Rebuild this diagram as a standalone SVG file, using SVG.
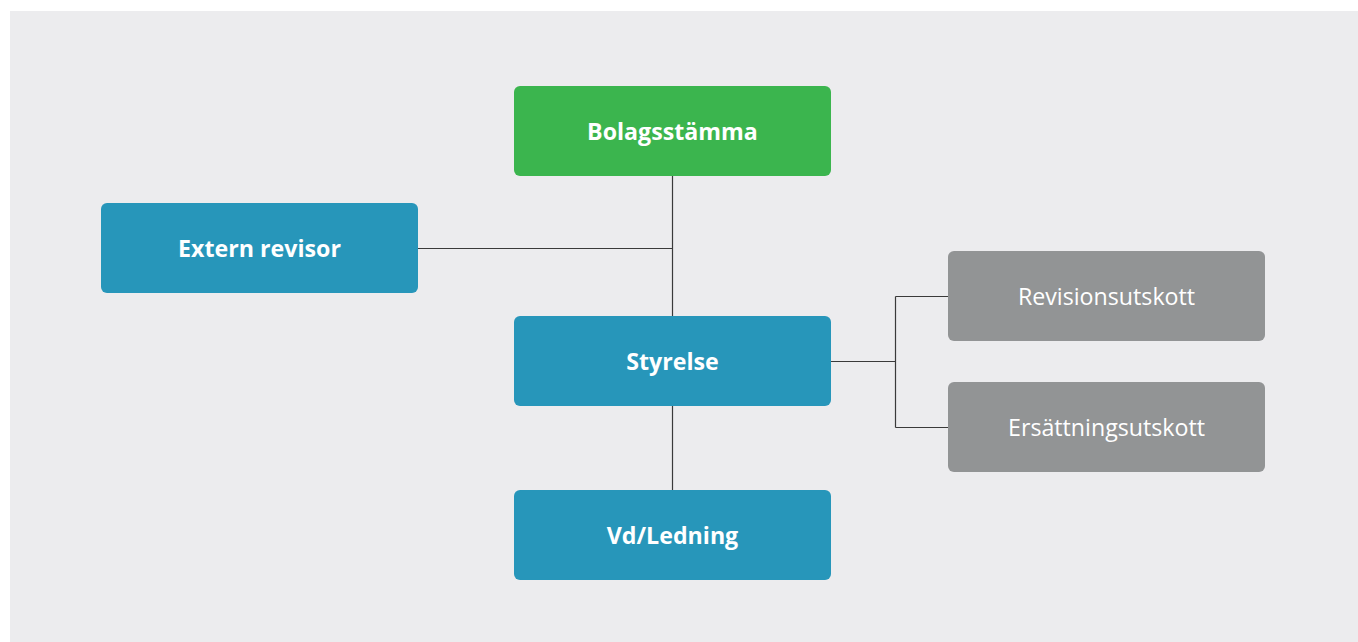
<svg xmlns="http://www.w3.org/2000/svg" width="1358" height="642" viewBox="0 0 1358 642">
<style>
.box{stroke:none}
.green{fill:#3BB54E}
.blue{fill:#2796BA}
.gray{fill:#929495}
.lbl{font-family:"Open Sans",sans-serif;font-size:23.2px;fill:#FFFFFF;text-anchor:middle;dominant-baseline:central}
.b{font-weight:bold}
.conn{stroke:#3a3a3a;stroke-width:1.2;fill:none}
</style>
<rect x="0" y="0" width="1358" height="642" fill="#FFFFFF"/>
<rect x="10" y="11" width="1348" height="631" fill="#ECECEE"/>
<g id="connectors">
<path class="conn" d="M672.5 176 V316 M418 248.5 H672.5 M672.5 406 V490 M831 361.5 H895.5 M895.5 296.5 V427.5 M895.5 296.5 H948 M895.5 427.5 H948"/>
</g>
<g id="bolagsstamma">
<rect class="box green" x="514" y="86" width="317" height="90" rx="6"/>
<text class="lbl b" x="672.5" y="131">Bolagsstämma</text>
</g>
<g id="extern-revisor">
<rect class="box blue" x="101" y="203" width="317" height="90" rx="6"/>
<text class="lbl b" x="259.5" y="248">Extern revisor</text>
</g>
<g id="styrelse">
<rect class="box blue" x="514" y="316" width="317" height="90" rx="6"/>
<text class="lbl b" x="672.5" y="361">Styrelse</text>
</g>
<g id="vd-ledning">
<rect class="box blue" x="514" y="490" width="317" height="90" rx="6"/>
<text class="lbl b" x="672.5" y="535">Vd/Ledning</text>
</g>
<g id="revisionsutskott">
<rect class="box gray" x="948" y="251" width="317" height="90" rx="6"/>
<text class="lbl" x="1106.5" y="296">Revisionsutskott</text>
</g>
<g id="ersattningsutskott">
<rect class="box gray" x="948" y="382" width="317" height="90" rx="6"/>
<text class="lbl" x="1106.5" y="427">Ersättningsutskott</text>
</g>
</svg>
